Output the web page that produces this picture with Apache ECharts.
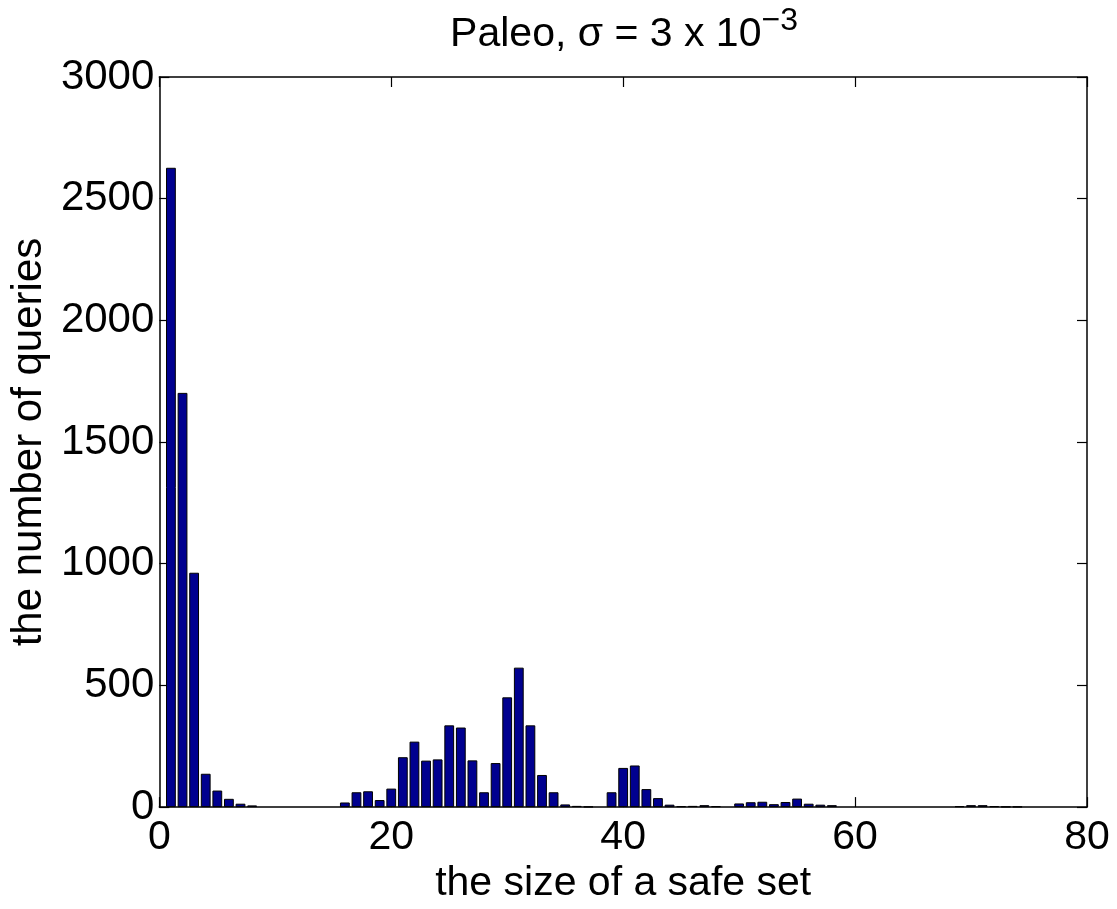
<!DOCTYPE html>
<html>
<head>
<meta charset="utf-8">
<script src="https://cdn.jsdelivr.net/npm/echarts@6/dist/echarts.min.js"></script>
<style>
html,body{margin:0;padding:0;background:#fff;}
#chart{width:1117px;height:909px;}
</style>
</head>
<body>
<div id="chart"></div>
<script>
// size of a safe set
var sizes = [1,2,3,4,5,6,7,8,
  16,17,18,19,20,21,22,23,24,25,26,27,28,29,30,31,32,33,34,35,36,37,
  39,40,41,42,43,44,45,46,47,48,
  50,51,52,53,54,55,56,57,58,
  69,70,71,72,73,74];
// number of queries
var counts = [2627,1702,963,137,68,34,14,7,
  19,61,65,29,76,205,269,191,196,336,327,192,61,181,451,573,336,132,61,11,5,2,
  61,161,171,74,37,10,4,5,8,4,
  15,20,22,12,21,35,14,10,8,
  4,8,8,4,2,2];
var xTicks = [0,20,40,60,80];
var yTicks = [0,500,1000,1500,2000,2500,3000];

var FONT = '"Liberation Sans", Arial, Helvetica, sans-serif';
var data = sizes.map(function(s,i){ return [s, counts[i]]; });

var chart = echarts.init(document.getElementById('chart'));
var common = {
  axisLine:{show:true,onZero:false,lineStyle:{color:'#000',width:1.5}},
  axisTick:{show:true,inside:true,length:10,lineStyle:{color:'#000',width:1.2}},
  splitLine:{show:false}
};
chart.setOption({
  animation:false,
  backgroundColor:'#fff',
  title:{
    text:'Paleo, σ = 3 x 10{sup|−3}',
    left:619, textAlign:'center', top:0,
    textStyle:{fontFamily:FONT,fontSize:41,fontWeight:'normal',color:'#000',
      rich:{sup:{fontFamily:FONT,fontSize:32,color:'#000',padding:[0,0,28,0]}}}
  },
  grid:{left:155,right:30,top:77,bottom:100,containLabel:false},
  xAxis:[
    Object.assign({type:'value',position:'bottom',min:xTicks[0],max:xTicks[xTicks.length-1],interval:20,
      name:'the size of a safe set',nameLocation:'middle',nameGap:51,
      nameTextStyle:{fontFamily:FONT,fontSize:41,color:'#000'},
      axisLabel:{fontFamily:FONT,fontSize:41,color:'#000',margin:10,formatter:function(v){return String(v);}}},common),
    Object.assign({type:'value',position:'top',min:xTicks[0],max:xTicks[xTicks.length-1],interval:20,
      axisLabel:{show:false}},common)
  ],
  yAxis:[
    Object.assign({type:'value',position:'left',min:yTicks[0],max:yTicks[yTicks.length-1],interval:500,
      name:'the number of queries',nameLocation:'middle',nameGap:103,
      nameTextStyle:{fontFamily:FONT,fontSize:42,color:'#000'},
      axisLabel:{fontFamily:FONT,fontSize:42,color:'#000',margin:5,formatter:function(v){return String(v);}}},common),
    Object.assign({type:'value',position:'right',min:yTicks[0],max:yTicks[yTicks.length-1],interval:500,
      axisLabel:{show:false}},common)
  ],
  series:[{
    type:'bar',
    xAxisIndex:0,yAxisIndex:0,
    data:data,
    barWidth:9.8,
    itemStyle:{color:'#00008F',borderColor:'#000',borderWidth:1},
    emphasis:{disabled:true}
  }]
});
</script>
</body>
</html>
